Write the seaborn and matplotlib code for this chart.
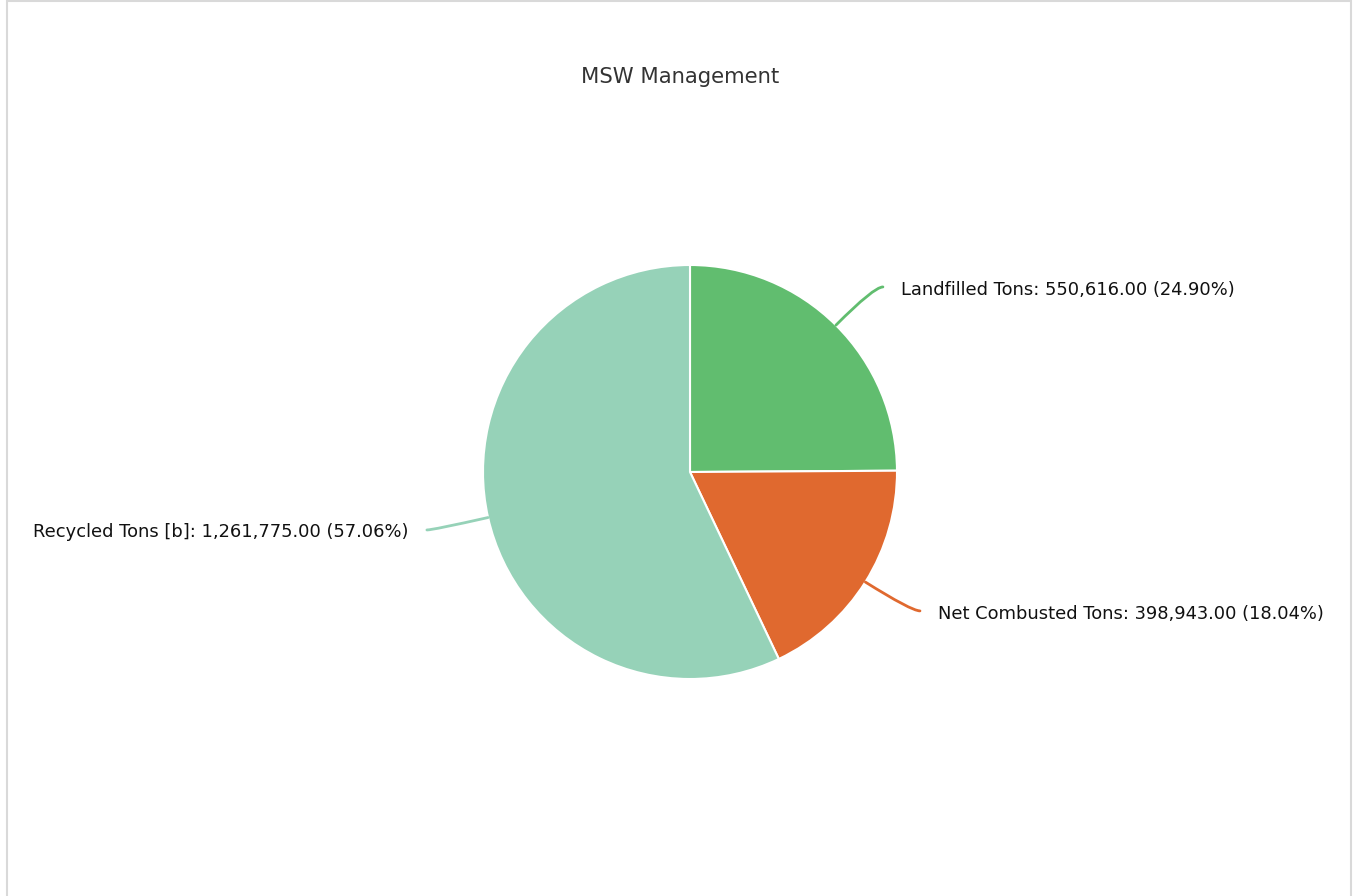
import seaborn as sns
import matplotlib.pyplot as plt
from matplotlib.patches import Rectangle
import numpy as np

labels = ["Landfilled Tons", "Net Combusted Tons", "Recycled Tons [b]"]
values = [550616.00, 398943.00, 1261775.00]
colors = ["#61bd6f", "#e0692f", "#96d2b8"]

sns.set_style("white")
plt.rcParams['font.family'] = ['DejaVu Sans']
palette = sns.color_palette(colors)

fig = plt.figure(figsize=(13.57, 8.96), dpi=100)
fig.patches.append(Rectangle((7 / 1357, -0.01), 1344 / 1357, 1.0 - 1 / 896 + 0.01,
                             transform=fig.transFigure, fill=False,
                             edgecolor="#d9d9d9", linewidth=1.5))
fig.text(680 / 1357, 1 - 77 / 896, "MSW Management", ha="center", va="center",
         fontsize=15.2, color="#333333")

# pie centred at (690, 472) px, radius 207 px
ax = fig.add_axes([(690 - 207) / 1357, (896 - 472 - 207) / 896, 414 / 1357, 414 / 896])
wedges, _ = ax.pie(values, colors=palette, startangle=90, counterclock=False,
                   wedgeprops=dict(edgecolor="white", linewidth=1.5))
ax.set_xlim(-1, 1)
ax.set_ylim(-1, 1)
ax.axis("off")

total = sum(values)
# label placement: (end of leader x, y, text x, text y, ha)
ends = [(0.932, 0.894, 1.019, 0.879, "left"),
        (1.111, -0.671, 1.198, -0.686, "left"),
        (-1.271, -0.280, -1.362, -0.290, "right")]
for w, lab, v, c, (ex, ey, tx, ty, ha) in zip(wedges, labels, values, palette, ends):
    mid = np.deg2rad((w.theta1 + w.theta2) / 2)
    px, py = np.cos(mid), np.sin(mid)
    ax.annotate("", xy=(px, py), xytext=(ex, ey),
                arrowprops=dict(arrowstyle="-", color=c, lw=2, shrinkA=0, shrinkB=0,
                                connectionstyle=f"angle3,angleA=0,angleB={np.rad2deg(mid):.1f}"),
                annotation_clip=False)
    ax.text(tx, ty, f"{lab}: {v:,.2f} ({v / total * 100:.2f}%)", ha=ha, va="center",
            fontsize=12.9, color="#111111", clip_on=False)

fig.savefig("out.png", dpi=100)
